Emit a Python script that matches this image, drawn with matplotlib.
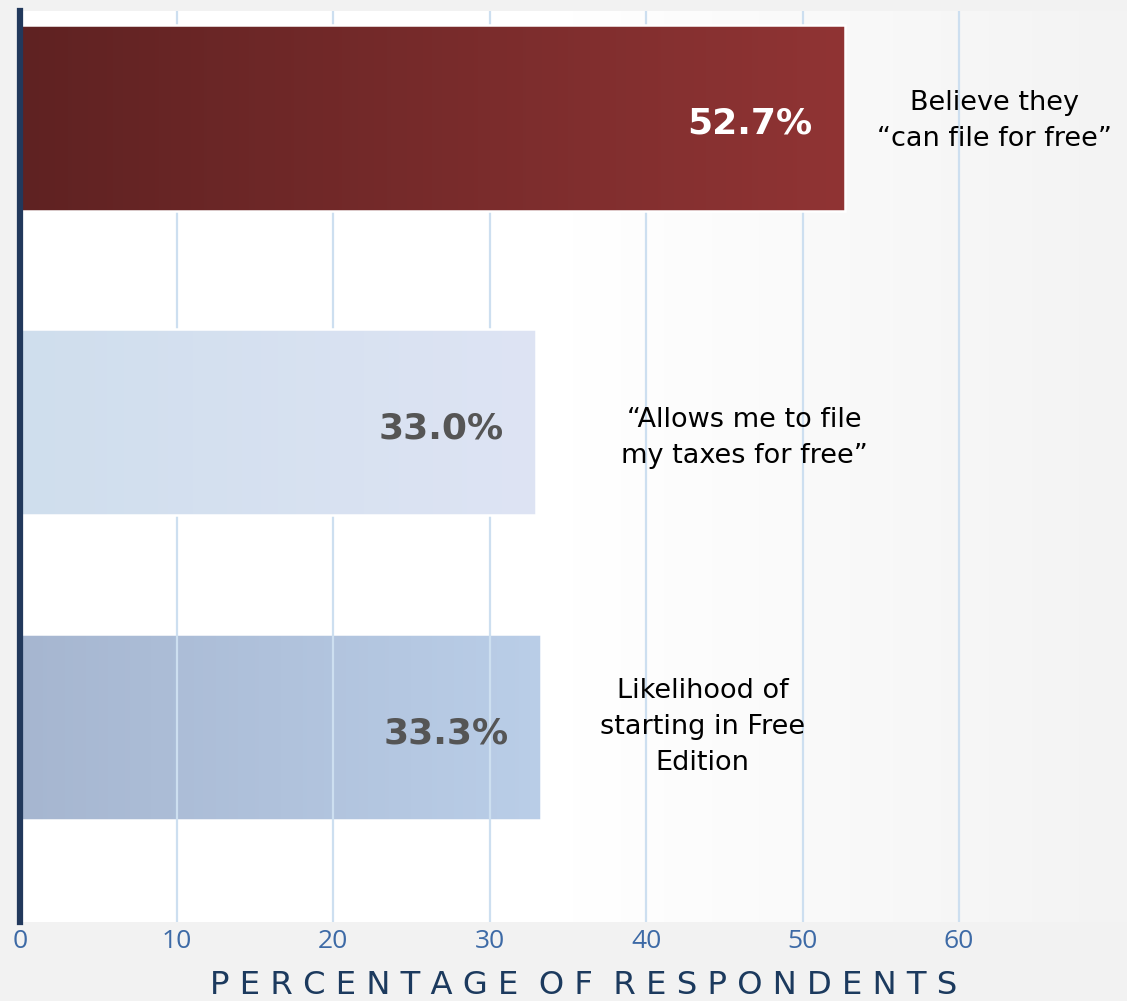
import numpy as np
import matplotlib
matplotlib.use("Agg")
import matplotlib.pyplot as plt
from matplotlib.colors import LinearSegmentedColormap

# ---- data ----
categories = ["Believe they\n\u201ccan file for free\u201d",
              "\u201cAllows me to file\nmy taxes for free\u201d",
              "Likelihood of\nstarting in Free\nEdition"]
values = [52.7, 33.0, 33.3]
value_labels = ["52.7%", "33.0%", "33.3%"]
xticks = [0, 10, 20, 30, 40, 50, 60]
xlabel = "PERCENTAGE OF RESPONDENTS"

# ---- styles ----
bar_grads = [("#5f2222", "#903434"), ("#cfdeed", "#dee4f4"), ("#a6b6d0", "#bacee8")]
value_colors = ["white", "#555555", "#555555"]
label_x = [62.3, 46.3, 43.6]
label_dy = [0.01, 0.05, 0.0]
bar_z = [3, 3, 1]

W, H = 1127, 1001
fig = plt.figure(figsize=(W / 100, H / 100), dpi=100)
fig.patch.set_facecolor("#f2f2f2")
x0 = 20
ax = fig.add_axes([x0 / W, 1 - 922 / H, (W - x0) / W, (922 - 11) / H])
xmax = (W - x0) / 15.65
ylim = (2.64, -0.35)

ax.patch.set_alpha(0)

# axes background gradient
bg = LinearSegmentedColormap.from_list("bg", ["#ffffff", "#ffffff", "#f3f3f3"])
ax.imshow(np.linspace(0, 1, 256)[None, :], cmap=bg, aspect="auto",
          extent=(0, xmax, ylim[0], ylim[1]), zorder=0)

ypos = np.arange(len(values))
bars = ax.barh(ypos, values, height=0.61, facecolor="none",
               edgecolor="white", linewidth=1.8)
for b, (c1, c2), z in zip(bars, bar_grads, bar_z):
    b.set_zorder(z + 0.1)
    cm = LinearSegmentedColormap.from_list("g", [c1, c2])
    x, y = b.get_x(), b.get_y()
    w, h = b.get_width(), b.get_height()
    im = ax.imshow(np.linspace(0, 1, 256)[None, :], cmap=cm, aspect="auto",
                   extent=(x, x + w, y + h, y), zorder=z)
    im.set_clip_path(b)

ax.set_xlim(0, xmax)
ax.set_ylim(*ylim)

ax.set_xticks(xticks)
ax.set_xticklabels([str(t) for t in xticks], family="Open Sans",
                   fontsize=19, color="#3d6aa6")
ax.tick_params(axis="x", length=0, pad=5)
ax.set_yticks([])
ax.grid(axis="x", color="#cddff0", linewidth=1.6)
for gl in ax.get_xgridlines():
    gl.set_zorder(2)

for s in ["top", "right", "bottom"]:
    ax.spines[s].set_visible(False)
ax.spines["left"].set_color("#22395c")
ax.spines["left"].set_linewidth(4.5)
ax.spines["left"].set_zorder(5)

for i, (v, lab, col) in enumerate(zip(values, value_labels, value_colors)):
    ax.text(v - 2.1, i + 0.02, lab, ha="right", va="center",
            family="DejaVu Sans", fontweight="bold",
            fontsize=26, color=col, zorder=6)

for i, (cat, lx) in enumerate(zip(categories, label_x)):
    ax.text(lx, i + label_dy[i], cat, ha="center", va="center", family="DejaVu Sans",
            fontsize=19.5, color="black", linespacing=1.5, zorder=6)

spaced = "  ".join(" ".join(wd) for wd in xlabel.split(" "))
fig.text(584 / W, 1 - 985 / H, spaced, ha="center", va="center",
         family="DejaVu Sans", fontsize=23.2, color="#1c3a5e")

fig.savefig("out.png", dpi=100, facecolor=fig.get_facecolor())
